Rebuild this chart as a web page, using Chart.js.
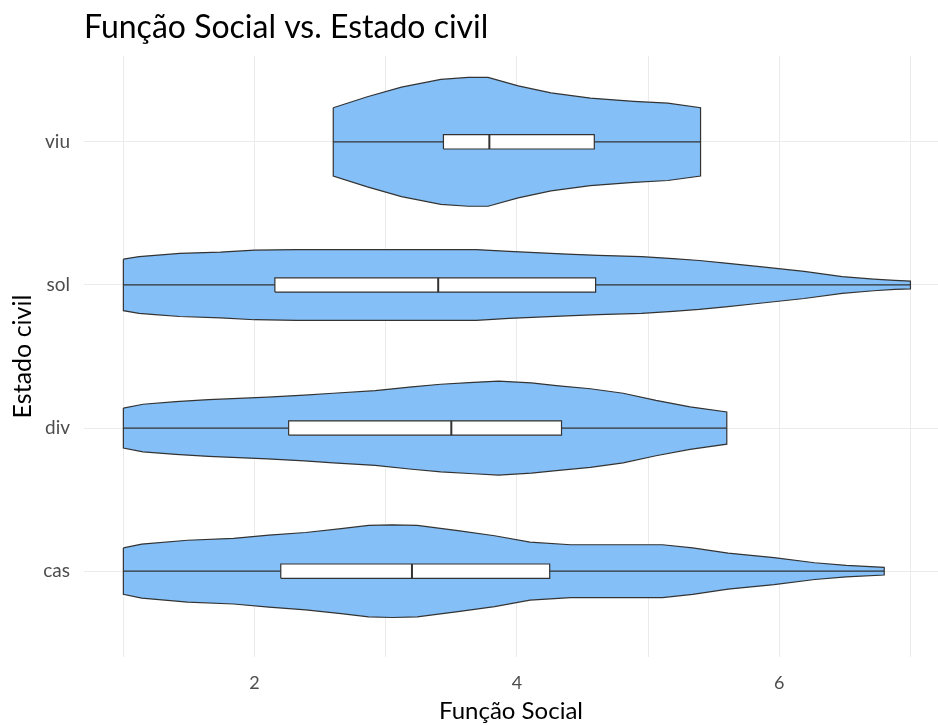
<!DOCTYPE html>
<html>
<head>
<meta charset="utf-8">
<title>Função Social vs. Estado civil</title>
<script src="https://cdn.jsdelivr.net/npm/chart.js@4.4.1/dist/chart.umd.min.js"></script>
<style>
  html, body { margin: 0; padding: 0; background: #fff; overflow: hidden; }
</style>
</head>
<body>
<canvas id="chart" width="938" height="726"></canvas>
<script>
// categories, bottom to top
const categories = ["cas", "div", "sol", "viu"];

// violin outlines: x positions and relative density (1 = widest point of all)
const casGrid = [1.00, 1.14, 1.49, 1.84, 2.11, 2.39, 2.66, 2.87, 3.05, 3.24, 3.55, 3.83, 4.10, 4.41, 5.11, 5.34, 5.61, 5.96, 6.27, 6.51, 6.80];
const casDensity = [0.36, 0.42, 0.48, 0.51, 0.56, 0.60, 0.66, 0.71, 0.72, 0.71, 0.63, 0.55, 0.45, 0.41, 0.41, 0.36, 0.28, 0.21, 0.13, 0.09, 0.06];

const divGrid = [1.00, 1.15, 1.40, 1.65, 2.10, 2.38, 2.60, 2.92, 3.20, 3.42, 3.67, 3.86, 4.11, 4.30, 4.56, 4.81, 5.06, 5.32, 5.60];
const divDensity = [0.31, 0.37, 0.41, 0.44, 0.48, 0.51, 0.54, 0.58, 0.64, 0.68, 0.71, 0.73, 0.70, 0.66, 0.61, 0.54, 0.43, 0.33, 0.25];

const solGrid = [1.00, 1.12, 1.24, 1.43, 1.74, 2.00, 2.32, 3.00, 3.69, 3.94, 4.38, 4.62, 4.95, 5.19, 5.39, 5.59, 5.87, 6.19, 6.48, 6.72, 6.88, 7.00];
const solDensity = [0.40, 0.44, 0.46, 0.49, 0.51, 0.54, 0.55, 0.55, 0.55, 0.52, 0.48, 0.46, 0.44, 0.41, 0.38, 0.34, 0.28, 0.21, 0.13, 0.09, 0.07, 0.06];

const viuGrid = [2.60, 2.86, 3.12, 3.42, 3.63, 3.78, 4.01, 4.26, 4.56, 4.89, 5.15, 5.40];
const viuDensity = [0.53, 0.70, 0.85, 0.97, 1.00, 1.00, 0.87, 0.76, 0.68, 0.63, 0.60, 0.53];

// boxplot statistics, same order as categories
const whiskerLow = [1.0, 1.0, 1.0, 2.6];
const boxQ1 = [2.20, 2.26, 2.155, 3.44];
const boxMedian = [3.20, 3.50, 3.40, 3.79];
const boxQ3 = [4.25, 4.34, 4.60, 4.59];
const whiskerHigh = [6.8, 5.6, 7.0, 5.4];

// axis ticks
const xTickLabels = [2, 4, 6];
const xGridLines = [1, 2, 3, 4, 5, 6, 7];

const violinHalf = 0.45;   // widest violin half-width, in category units
const boxHalf = 0.05;
const fillBlue = "#84bff7";
const edge = "#333333";

const grids = [casGrid, divGrid, solGrid, viuGrid];
const densities = [casDensity, divDensity, solDensity, viuDensity];

function violinPoints(grid, dens, pos) {
  const upper = grid.map((x, i) => ({ x, y: pos + dens[i] * violinHalf }));
  const lower = grid.map((x, i) => ({ x, y: pos - dens[i] * violinHalf })).reverse();
  return [...upper, ...lower, upper[0]];
}

const datasets = [];
categories.forEach((cat, i) => {
  const pos = i + 1;
  datasets.push({
    label: cat + " violin",
    data: violinPoints(grids[i], densities[i], pos),
    order: 4,
    fill: "shape",
    backgroundColor: fillBlue,
    borderColor: edge,
    borderWidth: 1.2,
  });
  datasets.push({
    label: cat + " whisker",
    data: [{ x: whiskerLow[i], y: pos }, { x: whiskerHigh[i], y: pos }],
    order: 3,
    borderColor: edge,
    borderWidth: 1.2,
  });
  datasets.push({
    label: cat + " box",
    data: [
      { x: boxQ1[i], y: pos - boxHalf }, { x: boxQ3[i], y: pos - boxHalf },
      { x: boxQ3[i], y: pos + boxHalf }, { x: boxQ1[i], y: pos + boxHalf },
      { x: boxQ1[i], y: pos - boxHalf },
    ],
    order: 2,
    fill: "shape",
    backgroundColor: "#ffffff",
    borderColor: edge,
    borderWidth: 1.2,
  });
  datasets.push({
    label: cat + " median",
    data: [{ x: boxMedian[i], y: pos - boxHalf }, { x: boxMedian[i], y: pos + boxHalf }],
    order: 1,
    borderColor: edge,
    borderWidth: 2,
  });
});

const font = "Lato, 'Open Sans', sans-serif";

new Chart(document.getElementById("chart"), {
  type: "scatter",
  data: { datasets },
  options: {
    responsive: false,
    animation: false,
    showLine: true,
    elements: { point: { radius: 0, hoverRadius: 0 }, line: { tension: 0 } },
    layout: { padding: { left: 0, right: 0, top: 0, bottom: 0 } },
    plugins: {
      legend: { display: false },
      tooltip: { enabled: false },
      title: {
        display: true,
        text: "Função Social vs. Estado civil",
        align: "start",
        fullSize: false,
        color: "#000",
        font: { family: font, size: 32, weight: "normal" },
        padding: { top: 8, bottom: 9.6 },
      },
    },
    scales: {
      x: {
        type: "linear",
        min: 0.7,
        max: 7.21,
        afterBuildTicks: (s) => { s.ticks = xGridLines.map((v) => ({ value: v })); },
        afterFit: (s) => { s.height = 69; },
        border: { display: false },
        grid: { color: "#ebebeb", lineWidth: 1, drawTicks: false },
        ticks: {
          autoSkip: false,
          maxRotation: 0,
          padding: 15,
          color: "#4d4d4d",
          font: { family: font, size: 18 },
          callback: (v) => (xTickLabels.includes(v) ? String(v) : ""),
        },
        title: {
          display: true,
          text: "Função Social",
          color: "#000",
          font: { family: font, size: 24 },
          padding: { top: 0, bottom: 0 },
        },
      },
      y: {
        type: "linear",
        min: 0.4,
        max: 4.6,
        afterBuildTicks: (s) => { s.ticks = categories.map((c, i) => ({ value: i + 1 })); },
        afterFit: (s) => { s.width = 84; },
        border: { display: false },
        grid: { color: "#ebebeb", lineWidth: 1, drawTicks: false },
        ticks: {
          autoSkip: false,
          padding: 14,
          color: "#4d4d4d",
          font: { family: font, size: 19 },
          callback: (v) => categories[v - 1],
        },
        title: {
          display: true,
          text: "Estado civil",
          color: "#000",
          font: { family: font, size: 25 },
          padding: { top: 8, bottom: 0 },
        },
      },
    },
  },
});
</script>
</body>
</html>
